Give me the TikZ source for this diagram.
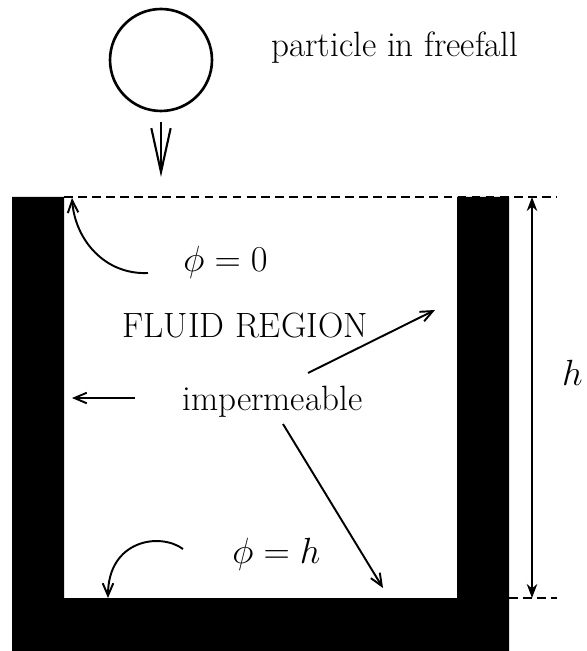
\documentclass[tikz,border=0pt]{standalone}
\usepackage{amsmath}
\usepackage{fontspec}
\usetikzlibrary{arrows.meta,positioning}

\begin{document}
\begin{tikzpicture}[x=0.02cm,y=-0.02cm,
    lbl/.style={inner sep=0pt,font=\fontsize{20}{23}\selectfont},
    ptr/.style={line width=1.1pt,-{Straight Barb[length=7pt,width=6pt]}},
    guide/.style={line width=1.3pt,dash pattern=on 5pt off 3pt}]
    \useasboundingbox (0,0) rectangle (586,651);
    \draw[guide] (64,197) -- (557,197);
    \draw[guide] (509,598) -- (557,598);
    \fill[black] (12,197) -- (64,197) -- (64,598) -- (457,598) -- (457,197) -- (509,197) -- (509,651) -- (12,651) -- cycle;
    \node[circle,draw,line width=1.5pt,minimum size=2.04cm,inner sep=0pt] (particle) at (161,60) {};
    \node[lbl,anchor=base west] (freefall) at (271,57) {particle in freefall};
    \node[lbl,anchor=base west] (phizero) at (183,272) {$\phi = 0$};
    \node[lbl,anchor=base west] (fluid) at (122,337) {FLUID REGION};
    \node[lbl,anchor=base west] (imperm) at (182,410) {impermeable};
    \node[lbl,anchor=base west] (phih) at (232,563) {$\phi = h$};
    \node[lbl,anchor=base east] (hlabel) at (583,385) {$h$};
    \coordinate (falltop) at (161,122);
    \coordinate (falltip) at (161,177);
    \coordinate (topcurve) at (148,273);
    \coordinate (topcorner) at (72,198);
    \coordinate (botcurve) at (183,549);
    \coordinate (botcorner) at (108,598);
    \coordinate (leftstart) at (135,398);
    \coordinate (leftwall) at (72,398);
    \coordinate (upstart) at (308,373);
    \coordinate (rightwall) at (435,310);
    \coordinate (downstart) at (283,424);
    \coordinate (floor) at (383,588);
    \coordinate (dimtop) at (532,197);
    \coordinate (dimbot) at (532,598);
    \draw[line width=1.2pt,-{Straight Barb[length=25pt,width=11pt]}] (falltop) -- (falltip);
    \draw[ptr] (topcurve) .. controls (105,275) and (75,240) .. (topcorner);
    \draw[ptr] (botcurve) .. controls (160,532) and (108,540) .. (botcorner);
    \draw[ptr] (leftstart) -- (leftwall);
    \draw[ptr] (upstart) -- (rightwall);
    \draw[ptr] (downstart) -- (floor);
    \draw[line width=1.1pt,{Stealth[length=8pt,width=6pt]}-{Stealth[length=8pt,width=6pt]}] (dimtop) -- (dimbot);
\end{tikzpicture}
\end{document}
